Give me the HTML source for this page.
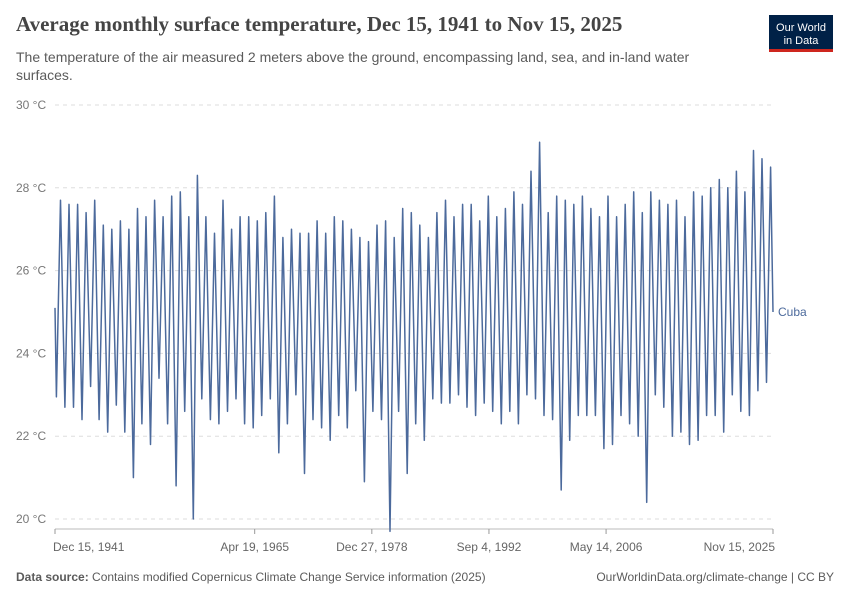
<!DOCTYPE html>
<html><head><meta charset="utf-8"><style>
body{margin:0;background:#fff;font-family:"Liberation Sans",sans-serif;}
#wrap{position:relative;width:850px;height:600px;overflow:hidden}
</style></head><body>
<div id="wrap">
<svg id="chart" width="850" height="600">
<text x="16" y="31" font-family="Liberation Serif, serif" font-size="21" font-weight="bold" fill="#444">Average monthly surface temperature, Dec 15, 1941 to Nov 15, 2025</text>
<text x="16" y="62" font-size="14" fill="#5b5b5b">The temperature of the air measured 2 meters above the ground, encompassing land, sea, and in-land water</text>
<text x="16" y="80" font-size="14" fill="#5b5b5b">surfaces.</text>
<g>
<rect x="769" y="15" width="64" height="37" fill="#002147"/>
<rect x="769" y="49" width="64" height="3" fill="#ce261e"/>
<text x="801" y="31" font-size="11" fill="#fff" text-anchor="middle">Our World</text>
<text x="801" y="44" font-size="11" fill="#fff" text-anchor="middle">in Data</text>
</g>
<g id="grid"></g><g id="xaxis"></g><g id="series"></g>
<text x="16" y="581" font-size="12" fill="#5b5b5b"><tspan font-weight="bold">Data source:</tspan> Contains modified Copernicus Climate Change Service information (2025)</text>
<text x="834" y="581" font-size="12" fill="#5b5b5b" text-anchor="end">OurWorldinData.org/climate-change | CC BY</text>
</svg>
</div>
<script>
const yTicks=[20,22,24,26,28,30];
const xTickLabels=["Dec 15, 1941","Apr 19, 1965","Dec 27, 1978","Sep 4, 1992","May 14, 2006","Nov 15, 2025"];
const xTickYears=[1941.96,1965.3,1978.99,1992.68,2006.37,2025.88];
const peaks=[27.7,27.6,27.6,27.4,27.7,27.1,27.0,27.2,27.0,27.5,
27.3,27.7,27.3,27.8,27.9,27.3,28.3,27.3,26.9,27.7,
27.0,27.3,27.3,27.2,27.4,27.8,26.8,27.0,26.9,26.9,
27.2,26.9,27.3,27.2,27.0,26.8,26.7,27.1,27.2,26.8,
27.5,27.4,27.1,26.8,27.4,27.7,27.3,27.6,27.6,27.2,
27.8,27.3,27.5,27.9,27.6,28.4,29.1,27.4,27.8,27.7,
27.6,27.8,27.5,27.3,27.8,27.3,27.6,27.9,27.4,27.9,
27.7,27.6,27.7,27.3,27.9,27.8,28.0,28.2,28.0,28.4,
27.9,28.9,28.7,28.5];
const troughs=[22.95,22.7,22.7,22.4,23.2,22.4,22.1,22.75,22.1,21.0,
22.3,21.8,23.4,22.3,20.8,22.6,20.0,22.9,22.4,22.3,
22.6,22.9,22.3,22.2,22.5,22.9,21.6,22.3,23.0,21.1,
22.4,22.2,21.9,22.5,22.2,23.1,20.9,22.6,22.4,19.7,
22.6,21.1,22.3,21.9,22.9,22.8,22.8,23.0,22.7,22.5,
22.8,22.6,22.3,22.6,22.3,23.0,22.9,22.5,22.4,20.7,
21.9,22.5,22.5,22.5,21.7,21.8,22.5,22.3,22.0,20.4,
23.0,22.7,22.0,22.1,21.8,21.9,22.5,22.5,22.1,23.0,
22.6,22.5,23.1,23.3];
const startValue=25.1, endValue=25.0, firstYear=1942;
const X0=55,X1=773,T0=1941.96,T1=2025.88,Y0=519,Y1=105;
const xs=t=>X0+(t-T0)/(T1-T0)*(X1-X0);
const ys=v=>Y0-(v-20)/10*(Y0-Y1);
const NS="http://www.w3.org/2000/svg";
const grid=document.getElementById('grid');
yTicks.forEach(v=>{
 const l=document.createElementNS(NS,'line');
 l.setAttribute('x1',55);l.setAttribute('x2',773);l.setAttribute('y1',ys(v));l.setAttribute('y2',ys(v));
 l.setAttribute('stroke','#ddd');l.setAttribute('stroke-dasharray','4,4');
 
 
 grid.appendChild(l);
 const t=document.createElementNS(NS,'text');
 t.setAttribute('x',16);t.setAttribute('y',ys(v)+4);t.setAttribute('font-size',12);t.setAttribute('fill','#777');
 t.textContent=v+' °C';
 
 
 grid.appendChild(t);
});
const xa=document.getElementById('xaxis');
const base=document.createElementNS(NS,'line');
base.setAttribute('x1',55);base.setAttribute('x2',773);base.setAttribute('y1',529);base.setAttribute('y2',529);base.setAttribute('stroke','#bbb');


xa.appendChild(base);
xTickLabels.forEach((s,i)=>{
 const x=xs(xTickYears[i]);
 const tk=document.createElementNS(NS,'line');
 tk.setAttribute('x1',x);tk.setAttribute('x2',x);tk.setAttribute('y1',529);tk.setAttribute('y2',534);tk.setAttribute('stroke','#999');
 
 
 xa.appendChild(tk);
 const t=document.createElementNS(NS,'text');
 t.setAttribute('x',i==0?53:(i==xTickLabels.length-1?775:x));t.setAttribute('y',551);t.setAttribute('font-size',12);t.setAttribute('fill','#666');
 t.setAttribute('text-anchor',i==0?'start':(i==xTickLabels.length-1?'end':'middle'));
 t.textContent=s;
 
 
 xa.appendChild(t);
});
let pts=[[xs(1941.96),ys(startValue)]];
for(let i=0;i<troughs.length;i++){
 const y=firstYear+i;
 pts.push([xs(y+0.12),ys(troughs[i])]);
 if(i<peaks.length) pts.push([xs(y+0.6),ys(peaks[i])]);
}
pts.push([xs(2025.88),ys(endValue)]);
const p=document.createElementNS(NS,'path');
p.setAttribute('d','M'+pts.map(q=>q[0].toFixed(1)+','+q[1].toFixed(1)).join('L'));
p.setAttribute('fill','none');p.setAttribute('stroke','#4c6a9c');p.setAttribute('stroke-width',1.5);p.setAttribute('stroke-linejoin','round');


document.getElementById('series').appendChild(p);
const lb=document.createElementNS(NS,'text');
lb.setAttribute('x',778);lb.setAttribute('y',ys(endValue)+4);lb.setAttribute('font-size',12);lb.setAttribute('fill','#4c6a9c');
lb.textContent='Cuba';


document.getElementById('series').appendChild(lb);
</script>
</body></html>
